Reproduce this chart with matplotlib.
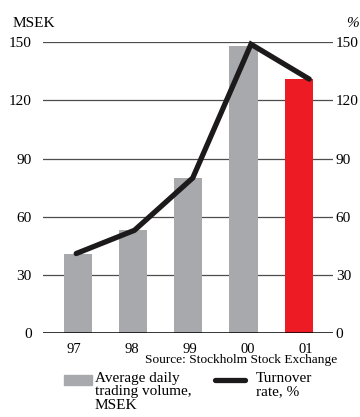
import numpy as np
import matplotlib
matplotlib.use("Agg")
import matplotlib.pyplot as plt
from matplotlib.patches import Rectangle
from matplotlib.lines import Line2D

plt.rcParams['font.family'] = ['Liberation Serif', 'DejaVu Serif']

years = ["97", "98", "99", "00", "01"]
volume = [41, 53, 80, 148, 131]        # MSEK, average daily trading volume
turnover = [41, 53, 80, 149, 131]      # %, turnover rate
yticks = [0, 30, 60, 90, 120, 150]

GRAY = "#a7a9ac"
RED = "#ed1c24"
INK = "#1c1a1b"

fig = plt.figure(figsize=(3.6, 4.17), dpi=100)
ax = fig.add_axes([0.119, 0.2014, 0.806, 0.6972])

pos = np.arange(len(years))
colors = [GRAY] * (len(years) - 1) + [RED]
ax.bar(pos, volume, width=0.51, color=colors, zorder=2)

# the line and labels sit on a slightly wider spacing than the bars
line_pos = pos * 1.055 - 0.03
ax.plot(line_pos, turnover, color=INK, lw=3.8, solid_capstyle='round',
        solid_joinstyle='miter', zorder=3, clip_on=False)

ax.set_xlim(-0.634, 4.62)
ax.set_ylim(0, 150)
ax.set_yticks(yticks)
for t in yticks[1:]:
    ax.axhline(t, color="#4d4d4d", lw=0.9, zorder=1)
ax.axhline(0, color="black", lw=1.1, zorder=4)

for s in ax.spines.values():
    s.set_visible(False)

ax.set_xticks(pos * 1.05 - 0.08)
ax.set_xticklabels(years)
ax.tick_params(axis='x', length=0, pad=7, labelsize=10.5)
ax.tick_params(axis='y', length=0, pad=8, labelsize=11)

# right-side labels sit closer to the axis
ax2 = ax.twinx()
ax2.set_ylim(ax.get_ylim())
ax2.set_yticks(yticks)
ax2.tick_params(axis='y', length=0, pad=2, labelsize=11)
for s in ax2.spines.values():
    s.set_visible(False)

fig.text(0.036, 0.935, "MSEK", fontsize=11, va='baseline', ha='left')
fig.text(0.998, 0.935, "%", fontsize=11, va='baseline', ha='right', style='italic')

fig.text(0.936, 0.129, "Source: Stockholm Stock Exchange", fontsize=9.6,
         ha='right', va='baseline')

# legend
fig.patches.append(Rectangle((64 / 360, 1 - 385 / 417), 28 / 360, 10 / 417,
                             transform=fig.transFigure, color=GRAY))
fig.text(95 / 360, 1 - 372 / 417, "Average daily\ntrading volume,\nMSEK",
         fontsize=11, ha='left', va='top', linespacing=1.05)
fig.lines.append(Line2D([215 / 360, 245 / 360], [1 - 380 / 417, 1 - 380 / 417],
                        transform=fig.transFigure, color=INK, lw=3.8,
                        solid_capstyle='round'))
fig.text(256 / 360, 1 - 372 / 417, "Turnover\nrate, %", fontsize=11,
         ha='left', va='top', linespacing=1.05)

fig.savefig("out.png", dpi=100)
